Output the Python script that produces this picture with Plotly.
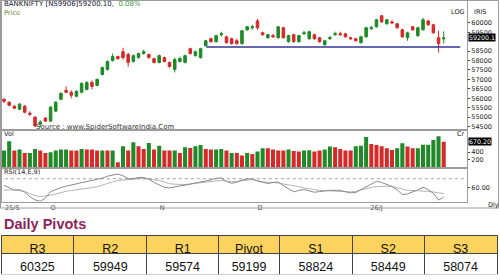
import plotly.graph_objects as go

W, H = 500, 280
def py(p):
    return 1 - p / H
def px(p):
    return p / W

# ---------------- data ----------------
opens = [55950, 55790, 55580, 55420, 55580, 55210, 55000, 54630, 54950, 54790,
         55320, 55950, 56420, 56320, 56110, 56320, 56470, 56840, 56680, 57260,
         57530, 58000, 58210, 58470, 58320, 57950, 58160, 58370, 58320, 58100,
         57900, 58160, 57900, 57530, 57950, 57900, 58630, 58260, 58160, 58790,
         59160, 59000, 59370, 59260, 59160, 59050, 58900, 59630, 59740, 60100,
         59470, 59210, 59320, 59210, 59740, 59000, 59370, 59000, 59420, 59160,
         59370, 59210, 58840, 59160, 59370, 59420, 59420, 59210, 59160, 58950,
         59260, 59690, 59790, 60370, 59950, 60050, 59950, 59630, 59210, 59790,
         59320, 59630, 60100, 59900, 59210, 59150]
highs = [56000, 55840, 55640, 55740, 55650, 55310, 55060, 54840, 55000, 55580,
         55850, 56320, 56630, 56420, 56420, 56840, 56900, 56950, 57050, 57680,
         58000, 58370, 58260, 58680, 58420, 58320, 58420, 58580, 58370, 58160,
         58320, 58210, 57950, 58160, 58210, 58320, 58680, 58530, 58680, 59100,
         59210, 59370, 59530, 59320, 59210, 59160, 59630, 59840, 59900, 60210,
         59530, 59420, 59420, 59840, 59790, 59370, 59420, 59370, 59580, 59580,
         59420, 59260, 59100, 59320, 59530, 59530, 59470, 59260, 59210, 59320,
         59790, 59840, 60210, 60420, 60210, 60160, 60000, 59690, 59530, 59840,
         59790, 60260, 60160, 59950, 59580, 59550]
lows = [55740, 55580, 55420, 55370, 55200, 55050, 54470, 54470, 54740, 54740,
        55260, 55900, 56260, 56000, 56050, 56260, 56420, 56470, 56630, 57210,
        57470, 57950, 58050, 58050, 57680, 57900, 58100, 58310, 58100, 57840,
        57850, 57900, 57630, 57370, 57900, 57850, 58320, 58210, 58100, 58740,
        58950, 58950, 59260, 58900, 58840, 58840, 58840, 59580, 59630, 59630,
        59320, 59160, 59210, 59160, 59160, 58950, 58950, 58950, 59370, 59100,
        59100, 58950, 58790, 59100, 59320, 59320, 59210, 59100, 59000, 58900,
        59210, 59630, 59740, 60000, 59900, 59950, 59690, 59210, 59050, 59580,
        59260, 59580, 59840, 59420, 58420, 58900]
closes = [55840, 55630, 55470, 55690, 55260, 55160, 54530, 54740, 54790, 55530,
          55790, 56260, 56320, 56160, 56370, 56790, 56840, 56630, 57000, 57630,
          57950, 58210, 58100, 58160, 57900, 58260, 58370, 58470, 58160, 57900,
          58260, 57950, 57680, 58050, 58100, 58260, 58370, 58470, 58630, 59050,
          59000, 59320, 59420, 58950, 58900, 58900, 59580, 59790, 59790, 59740,
          59370, 59370, 59260, 59790, 59210, 59320, 59000, 59320, 59470, 59530,
          59160, 59000, 59050, 59210, 59420, 59370, 59260, 59160, 59050, 59260,
          59740, 59740, 60160, 60050, 60160, 60000, 59740, 59260, 59470, 59630,
          59740, 60160, 59900, 59470, 58900, 59200.10]

volumes = [442, 685, 442, 468, 382, 382, 486, 442, 382, 399,
           442, 468, 468, 442, 442, 486, 468, 468, 442, 442,
           442, 442, 139, 555, 442, 659, 555, 486, 641, 468,
           572, 442, 442, 442, 382, 529, 511, 555, 589, 486,
           468, 468, 486, 442, 382, 382, 312, 382,
           356, 416, 503, 503, 468, 442, 442, 468, 434, 416,
           442, 451, 416, 442, 468, 546, 529, 486, 442, 442,
           555, 572, 797, 616, 589, 555, 503, 460, 503, 633,
           546, 503, 503, 598, 598, 719, 815, 670.20]
vol_colors = list("GGRGRGGRRGGGGRRGRRRGRGRGRGRRGRGRRGRGRGGRRGGRGRRG"
                  "RGGRRRRGRRGGRRGGRRRRGGGRRRRRGGRRGGGGGR")

rsi = [62.5, 59.1, 56.7, 57.4, 54.5, 49.3, 45.5, 43.9, 47.6, 55.1,
       57.8, 59.7, 61.4, 62.8, 64.1, 65.2, 66.1, 67.7, 69.2, 70.7,
       72.9, 74.3, 75.4, 73.4, 70.0, 70.0, 71.5, 71.4, 69.4, 65.6,
       62.8, 60.1, 59.3, 60.8, 61.7, 62.6, 63.7, 64.8, 66.2, 67.4,
       68.7, 70.3, 71.0, 66.8, 64.7, 66.0, 68.5, 69.8, 69.8, 67.4,
       65.6, 64.5, 65.7, 66.2, 62.0, 58.3, 54.9, 56.4, 57.5, 55.9,
       54.4, 55.1, 56.0, 56.6, 56.6, 56.6, 54.9, 53.6, 54.1, 57.2,
       60.3, 63.4, 67.0, 65.7, 63.4, 61.0, 57.1, 51.7, 52.4, 54.5,
       57.2, 60.2, 57.4, 53.1, 45.3, 49.0]
rsi_signal = [56.7, 57.0, 57.2, 56.2, 55.1, 52.8, 50.5, 49.3, 49.9, 51.0,
              52.2, 53.9, 55.6, 56.4, 57.1, 57.8, 58.5, 59.7, 60.8, 62.9,
              64.6, 66.3, 68.0, 68.6, 69.3, 70.0, 70.0, 70.0, 69.8, 68.5,
              68.2, 66.0, 64.3, 63.7, 63.1, 63.3, 64.0, 64.6, 65.4, 66.3,
              67.1, 67.7, 68.0, 67.4, 66.6, 66.8, 67.4, 67.9, 69.1, 67.7,
              66.3, 66.0, 65.6, 65.1, 63.9, 62.9, 62.2, 60.9, 59.3, 58.3,
              57.4, 56.4, 56.2, 55.9, 55.5, 55.4, 55.2, 54.8, 55.4, 57.1,
              59.1, 60.1, 60.8, 61.5, 61.5, 61.1, 59.9, 58.0, 56.6, 56.4,
              56.3, 56.2, 55.4, 54.6, 53.7, 52.8]
rsi_level = 70

support_level = 58720
support_span = [39.1, 88.2]

date_ticks = [1.6, 9.5, 30.6, 49.5, 72.0]
date_labels = ["25/S", "O", "N", "D", "26/J"]

price_ticks = [54500, 55000, 55500, 56000, 56500, 57000, 57500, 58000, 58500, 59500, 60000]
vol_ticks = [200, 400]
rsi_ticks = [60]

last_price = 59200.1
last_volume = 670.20

pivot_names = ["R3", "R2", "R1", "Pivot", "S1", "S2", "S3"]
pivot_values = [60325, 59949, 59574, 59199, 58824, 58449, 58074]

# ---------------- styles ----------------
GREEN = "#1f8a27"
RED = "#d42a2a"
FRAME = "#9c9c9c"
TICKFONT = dict(family="DejaVu Sans", size=6.5, color="#222")

idx = list(range(len(closes)))

fig = go.Figure()
fig.add_trace(go.Candlestick(
    x=idx, open=opens, high=highs, low=lows, close=closes,
    increasing=dict(line=dict(color=GREEN, width=1), fillcolor=GREEN),
    decreasing=dict(line=dict(color=RED, width=1), fillcolor=RED),
    xaxis="x", yaxis="y", showlegend=False, hoverinfo="skip"))
fig.add_trace(go.Scatter(
    x=support_span, y=[support_level, support_level], mode="lines",
    line=dict(color="#34348f", width=1.5), xaxis="x", yaxis="y", showlegend=False))
fig.add_trace(go.Bar(
    x=idx, y=volumes, marker_color=[GREEN if c == "G" else RED for c in vol_colors],
    marker_line_width=0, xaxis="x2", yaxis="y2", showlegend=False))
fig.add_trace(go.Scatter(
    x=idx, y=rsi_signal, mode="lines", line=dict(color="#b4b4b4", width=1),
    xaxis="x3", yaxis="y3", showlegend=False))
fig.add_trace(go.Scatter(
    x=idx, y=rsi, mode="lines", line=dict(color="#8a8a8a", width=1),
    xaxis="x3", yaxis="y3", showlegend=False))
fig.add_trace(go.Scatter(
    x=[-1, 100], y=[rsi_level, rsi_level], mode="lines",
    line=dict(color="#888", width=0.8, dash="dot"), xaxis="x3", yaxis="y3", showlegend=False))

fig.add_trace(go.Table(
    domain=dict(x=[px(1), px(497.5)], y=[py(277), py(237)]),
    columnwidth=[73, 73, 72, 61, 73, 72, 73],
    header=dict(values=pivot_names, fill_color="#fdd35f", height=18,
                line=dict(color="#444", width=1), align="center",
                font=dict(family="Liberation Sans, Arial", size=12.5, color="#111")),
    cells=dict(values=[[v] for v in pivot_values], fill_color="white", height=21,
               line=dict(color="#444", width=1), align="center",
               font=dict(family="Liberation Sans, Arial", size=12.5, color="#111"))))

xr = [-0.39, 89.5]
xcommon = dict(domain=[px(2), px(467)], range=xr, showgrid=False, zeroline=False,
               showline=True, linecolor=FRAME, linewidth=1, mirror=True, fixedrange=True)
ycommon = dict(side="right", showgrid=False, zeroline=False, showline=True, linecolor=FRAME,
               linewidth=1, mirror=True, ticks="outside", ticklen=2, tickcolor="#444",
               tickfont=TICKFONT)

fig.update_layout(
    width=W, height=H, margin=dict(l=0, r=0, t=0, b=0),
    paper_bgcolor="white", plot_bgcolor="white", bargap=0.22,
    xaxis=dict(**xcommon, anchor="y", showticklabels=False, rangeslider=dict(visible=False)),
    xaxis2=dict(**xcommon, anchor="y2", showticklabels=False),
    xaxis3=dict(**xcommon, anchor="y3", tickvals=date_ticks, ticktext=date_labels,
                tickfont=dict(family="DejaVu Sans", size=6.5, color="#444"), ticks="", ticklen=0),
    yaxis=dict(**ycommon, anchor="x", domain=[py(130), py(1)], range=[54368, 61158],
               tickvals=price_ticks, ticktext=[str(t) for t in price_ticks]),
    yaxis2=dict(**ycommon, anchor="x2", domain=[py(168.7), py(132)], range=[0, 953],
                tickvals=vol_ticks),
    yaxis3=dict(**ycommon, anchor="x3", domain=[py(203), py(170)], range=[43.6, 81.5],
                tickvals=rsi_ticks, ticktext=["%.2f" % t for t in rsi_ticks]),
)

small = dict(family="DejaVu Sans", size=6.5, color="#222")
ann = [
    dict(x=px(2), y=py(4.5), text="BANKNIFTY [NS9906]59200.10,  <span style='color:#3a9a3a'>0.08%</span>",
         xanchor="left", yanchor="middle", font=dict(family="DejaVu Sans", size=7, color="#141432")),
    dict(x=px(2), y=py(13.5), text="Price", xanchor="left", yanchor="middle",
         font=dict(family="DejaVu Sans", size=6.6, color="#5a8a2a")),
    dict(x=px(34), y=py(127.5), text="Source : www.SpiderSoftwareIndia.Com", xanchor="left",
         yanchor="middle", font=dict(family="DejaVu Sans", size=7, color="#333")),
    dict(x=px(2), y=py(135), text="Vol", xanchor="left", yanchor="middle", font=small),
    dict(x=px(2), y=py(173), text="RSI(14,E,9)", xanchor="left", yanchor="middle", font=small),
    dict(x=px(449), y=py(12), text="LOG", xanchor="left", yanchor="middle", font=small),
    dict(x=px(472), y=py(12), text="IRIS", xanchor="left", yanchor="middle", font=small),
    dict(x=px(455), y=py(135), text="Cr", xanchor="left", yanchor="middle", font=small),
    dict(x=px(486), y=py(206), text="Dly", xanchor="left", yanchor="middle", font=small),
    dict(x=px(468), xref="paper", y=last_price, yref="y", text="%.1f" % last_price,
         xanchor="left", yanchor="middle", bgcolor="#000", borderpad=0,
         font=dict(family="DejaVu Sans", size=6.3, color="white")),
    dict(x=px(468), xref="paper", y=last_volume, yref="y2", text="%.2f" % last_volume,
         xanchor="left", yanchor="middle", bgcolor="#000", borderpad=0,
         font=dict(family="DejaVu Sans", size=6.3, color="white")),
    dict(x=px(2), y=py(226), text="<b>Daily Pivots</b>", xanchor="left", yanchor="middle",
         font=dict(family="Liberation Sans, Arial", size=14.5, color="#8c2458")),
]
for a in ann:
    a.setdefault("xref", "paper")
    a.setdefault("yref", "paper")
    a["showarrow"] = False
fig.update_layout(annotations=ann)

fig.update_layout(shapes=[dict(type="rect", xref="paper", yref="paper",
                               x0=px(0.5), x1=px(498.5), y0=py(209.5), y1=py(0.5),
                               line=dict(color=FRAME, width=1))])

fig.write_html("out.html")
